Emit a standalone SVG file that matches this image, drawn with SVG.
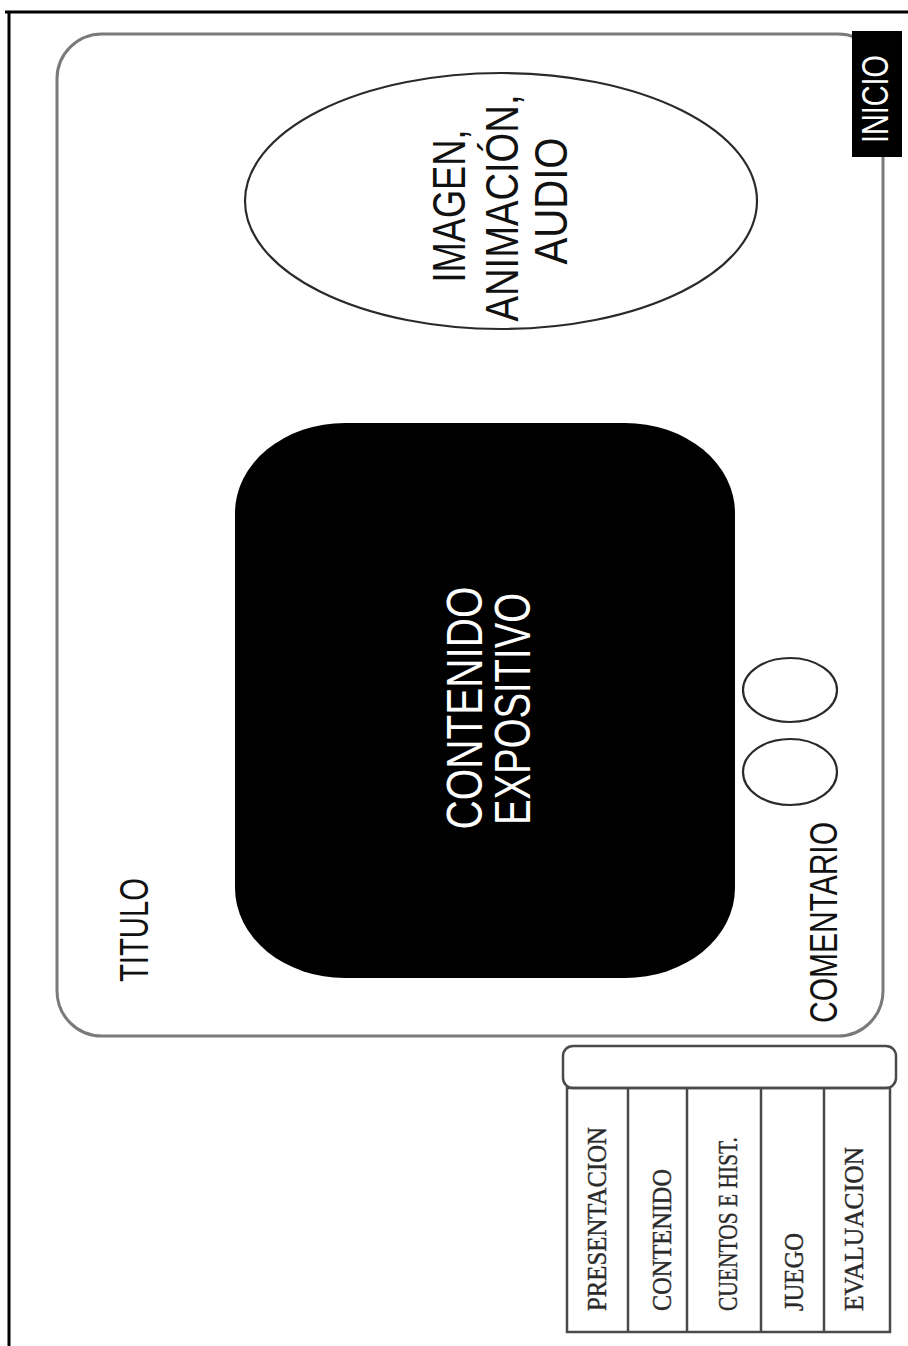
<svg xmlns="http://www.w3.org/2000/svg" width="908" height="1346" viewBox="0 0 908 1346">
<style>
.sans{font-family:"Liberation Sans",Arial,sans-serif}
.serif{font-family:"Liberation Serif","Times New Roman",serif;fill:#2a2a2a;stroke:#2a2a2a;stroke-width:0.4;font-size:27px}
.line{fill:none;stroke:#2a2a2a;stroke-width:2.2}
.menu{fill:none;stroke:#4a4a4a;stroke-width:2.5}
</style>
<rect width="908" height="1346" fill="#fff"/>
<g id="frame">
<path d="M5 12 H908 M9 12 V1346" fill="none" stroke="#000" stroke-width="3"/>
</g>
<g id="screen">
<rect x="57" y="34" width="826" height="1002" rx="45" ry="45" fill="none" stroke="#7a7a7a" stroke-width="3"/>
</g>
<g id="inicio">
<rect x="852" y="31" width="50" height="126" fill="#000"/>
<text class="sans" transform="translate(888,99) rotate(-90)" text-anchor="middle" font-size="37" fill="#fff" textLength="88" lengthAdjust="spacingAndGlyphs">INICIO</text>
</g>
<g id="titulo">
<text class="sans" transform="translate(148,982) rotate(-90)" font-size="41" fill="#111" textLength="104" lengthAdjust="spacingAndGlyphs">TITULO</text>
</g>
<g id="media">
<ellipse cx="501" cy="201" rx="256" ry="128" class="line"/>
<text class="sans" transform="translate(465,206) rotate(-90)" font-size="46" fill="#111" text-anchor="middle" textLength="153" lengthAdjust="spacingAndGlyphs">IMAGEN,</text>
<text class="sans" transform="translate(518,208) rotate(-90)" font-size="46" fill="#111" text-anchor="middle" textLength="227" lengthAdjust="spacingAndGlyphs">ANIMACIÓN,</text>
<text class="sans" transform="translate(567,201) rotate(-90)" font-size="46" fill="#111" text-anchor="middle" textLength="127" lengthAdjust="spacingAndGlyphs">AUDIO</text>
</g>
<g id="contenido">
<rect x="235" y="423" width="500" height="555" rx="110" ry="90" fill="#000"/>
<text class="sans" transform="translate(482,708) rotate(-90)" font-size="50" fill="#fff" text-anchor="middle" textLength="243" lengthAdjust="spacingAndGlyphs">CONTENIDO</text>
<text class="sans" transform="translate(530,709) rotate(-90)" font-size="50" fill="#fff" text-anchor="middle" textLength="232" lengthAdjust="spacingAndGlyphs">EXPOSITIVO</text>
</g>
<g id="comentario">
<ellipse cx="790" cy="690" rx="47" ry="32" class="line"/>
<ellipse cx="790" cy="772" rx="47" ry="33" class="line"/>
<text class="sans" transform="translate(837,1023) rotate(-90)" font-size="38" fill="#111" textLength="201" lengthAdjust="spacingAndGlyphs">COMENTARIO</text>
</g>
<g id="menu">
<rect x="563" y="1046" width="333" height="42" rx="10" ry="10" fill="#fff" class="menu"/>
<rect x="567" y="1088" width="323" height="244" class="menu"/>
<path d="M628 1088 V1332 M687 1088 V1332 M761 1088 V1332 M824 1088 V1332" class="menu"/>
<text class="serif" transform="translate(606,1311) rotate(-90)" textLength="184" lengthAdjust="spacingAndGlyphs">PRESENTACION</text>
<text class="serif" transform="translate(671,1311) rotate(-90)" textLength="142" lengthAdjust="spacingAndGlyphs">CONTENIDO</text>
<text class="serif" transform="translate(737,1311) rotate(-90)" textLength="174" lengthAdjust="spacingAndGlyphs">CUENTOS E HIST.</text>
<text class="serif" transform="translate(803,1311) rotate(-90)" textLength="78" lengthAdjust="spacingAndGlyphs">JUEGO</text>
<text class="serif" transform="translate(863,1311) rotate(-90)" textLength="164" lengthAdjust="spacingAndGlyphs">EVALUACION</text>
</g>
</svg>
